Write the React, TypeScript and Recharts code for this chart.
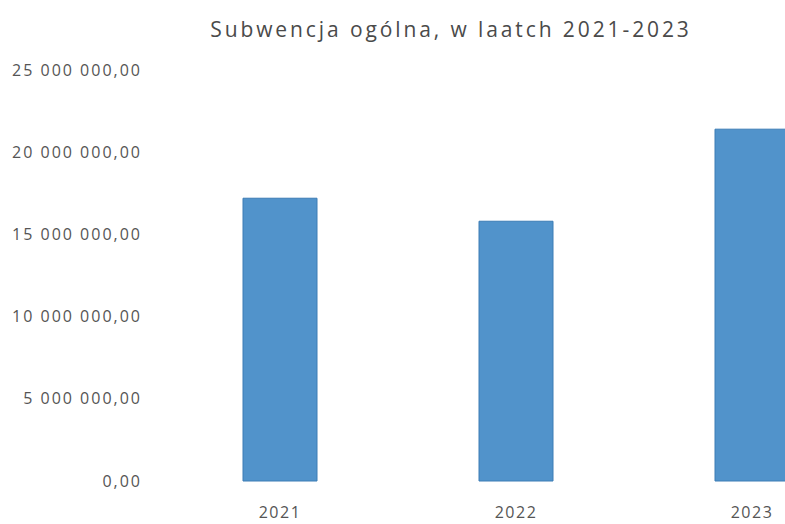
import React from 'react';
import { BarChart, Bar, XAxis, YAxis } from 'recharts';

const years = ['2021', '2022', '2023'];
const subwencja = [17200000, 15800000, 21400000];
const yTicks = [0, 5000000, 10000000, 15000000, 20000000, 25000000];

const data = years.map((year, i) => ({ year, value: subwencja[i] }));

const formatPl = (v: number) =>
  Math.round(v)
    .toString()
    .replace(/\B(?=(\d{3})+(?!\d))/g, ' ') + ',00';

const FONT = '"Open Sans", sans-serif';
const TEXT = '#555555';

const App: React.FC = () => {
  return (
    <div style={{ position: 'absolute', left: 0, top: 0, width: 785, height: 524, overflow: 'hidden', background: '#fff' }}>
      <div
        style={{
          position: 'absolute',
          left: 0,
          top: 14,
          width: 902,
          textAlign: 'center',
          fontFamily: FONT,
          fontSize: 21,
          letterSpacing: 2.9,
          color: '#4a4a4a',
          lineHeight: '30px',
          whiteSpace: 'nowrap',
        }}
      >
        Subwencja ogólna, w laatch 2021-2023
      </div>
      <BarChart
        width={870}
        height={524}
        data={data}
        margin={{ top: 70, right: 0, bottom: 13, left: 0 }}
        barSize={74}
      >
        <XAxis
          dataKey="year"
          height={30}
          axisLine={false}
          tickLine={false}
          tickMargin={20}
          tick={{ fill: TEXT, fontFamily: FONT, fontSize: 16, letterSpacing: 1.5 }}
        />
        <YAxis
          width={162}
          domain={[0, 25000000]}
          ticks={yTicks}
          axisLine={false}
          tickLine={false}
          tickMargin={14}
          tickFormatter={formatPl}
          tick={{ fill: TEXT, fontFamily: FONT, fontSize: 16, letterSpacing: 2.0 }}
        />
        <Bar dataKey="value" fill="#5193cb" stroke="#3c7cb5" strokeWidth={1} isAnimationActive={false} />
      </BarChart>
    </div>
  );
};

export default App;
